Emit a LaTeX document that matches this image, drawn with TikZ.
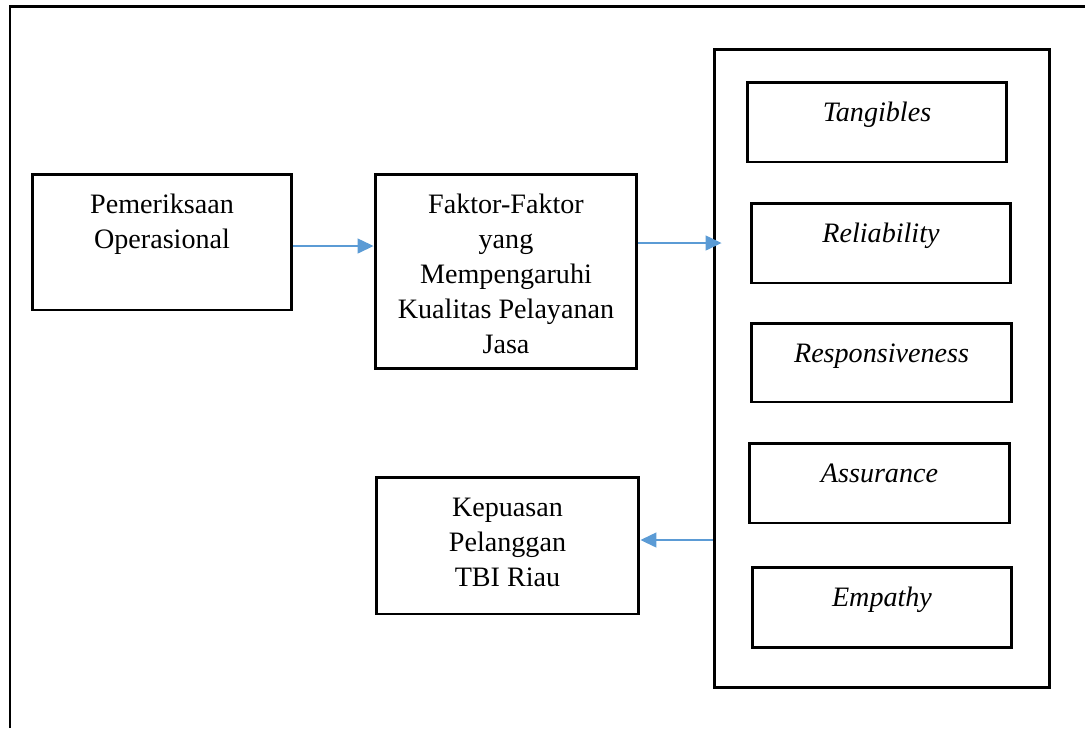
\documentclass[tikz,border=0pt]{standalone}
\usepackage{fontspec}
\setmainfont{Liberation Serif}
\usetikzlibrary{arrows.meta}

\definecolor{panahbiru}{HTML}{5B9BD5}
\newcommand{\baris}[1]{\parbox[t]{5cm}{\centering #1}}
\tikzset{
  kotak/.style={draw,line width=1.7pt,inner sep=0pt},
  isi/.style={anchor=base,yshift=-0.82cm,inner sep=0pt,font=\fontsize{16pt}{19.9pt}\selectfont},
  panah/.style={-{Triangle[length=0.32cm,width=0.3cm]},draw=panahbiru,fill=panahbiru,line width=0.8pt}
}

\begin{document}
\begin{tikzpicture}[x=0.02cm,y=-0.02cm]
\useasboundingbox (0,0) rectangle (1085,728);
% bingkai luar
\draw[line width=1.7pt] (10,728) -- (10,6) -- (1085,6);

% kolom kiri dan tengah
\node[kotak,minimum width=5.2cm,minimum height=2.72cm,
  label={[isi]north:\baris{Pemeriksaan\\Operasional}}] (pem) at (162,242) {};
\node[kotak,minimum width=5.24cm,minimum height=3.9cm,
  label={[isi]north:\baris{Faktor-Faktor\\yang\\Mempengaruhi\\Kualitas Pelayanan\\Jasa}}] (faktor) at (506,271.5) {};
\node[kotak,minimum width=5.26cm,minimum height=2.74cm,
  label={[isi]north:\baris{Kepuasan\\Pelanggan\\TBI Riau}}] (puas) at (507.5,545.5) {};

% dimensi kualitas
\node[kotak,minimum width=6.72cm,minimum height=12.78cm] (dimensi) at (882,368.5) {};
\node[kotak,minimum width=5.2cm,minimum height=1.6cm,
  label={[isi]north:\baris{\textit{Tangibles}}}] (tangib) at (877,122) {};
\node[kotak,minimum width=5.2cm,minimum height=1.6cm,
  label={[isi]north:\baris{\textit{Reliability}}}] (reliab) at (881,243) {};
\node[kotak,minimum width=5.22cm,minimum height=1.58cm,
  label={[isi]north:\baris{\textit{Responsiveness}}}] (respon) at (881.5,362.5) {};
\node[kotak,minimum width=5.22cm,minimum height=1.6cm,
  label={[isi]north:\baris{\textit{Assurance}}}] (assur) at (879.5,483) {};
\node[kotak,minimum width=5.2cm,minimum height=1.6cm,
  label={[isi]north:\baris{\textit{Empathy}}}] (empat) at (882,607) {};

% panah
\draw[panah] ([yshift=-0.08cm]pem.east) -- ([yshift=-0.08cm]pem.east -| faktor.west);
\draw[panah] (faktor.east |- reliab) -- ([xshift=0.18cm]dimensi.west |- reliab);
\draw[panah] ([yshift=0.11cm]puas.east -| dimensi.west) -- ([yshift=0.11cm]puas.east);
\end{tikzpicture}
\end{document}
